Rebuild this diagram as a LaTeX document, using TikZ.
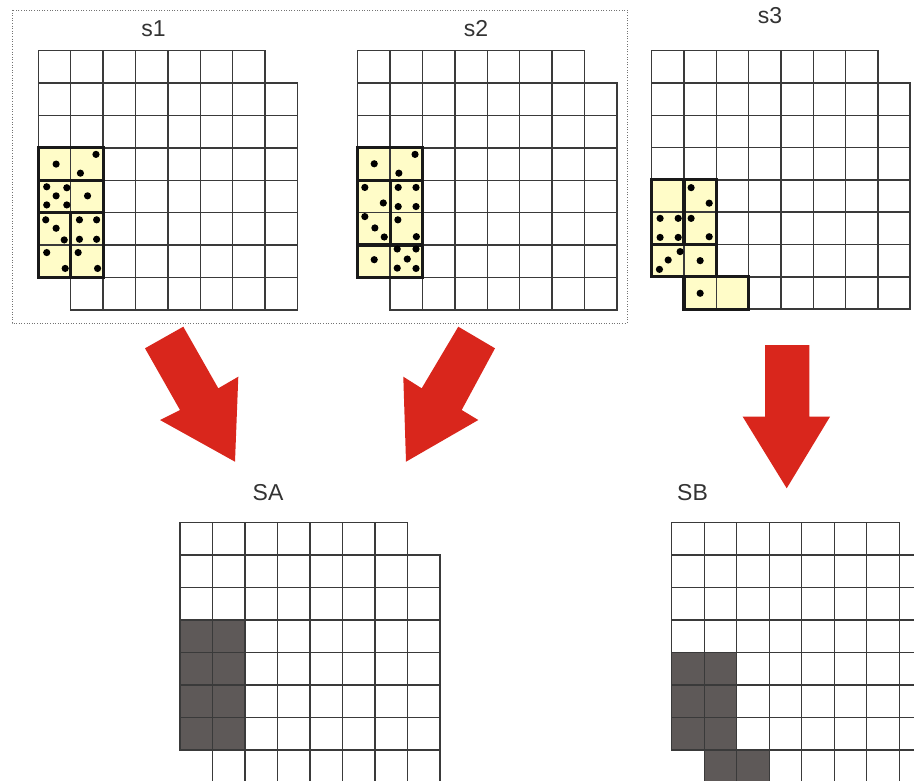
\documentclass[tikz,border=0pt]{standalone}
\usepackage{fontspec}
\setmainfont{Liberation Sans}
\definecolor{cellyellow}{HTML}{FFFCC8}
\definecolor{arrowred}{HTML}{D9261C}
\definecolor{darkcell}{HTML}{5E5958}
\definecolor{gridgray}{HTML}{3A3A3A}
\tikzset{
  gridline/.style={draw=gridgray, line width=1.4pt},
  boxline/.style={draw=black!90, line width=3.2pt},
  dotmark/.style={fill=black},
  bigarrow/.style={fill=arrowred},
  lbl/.style={font=\fontsize{23}{27}\selectfont, text=black!80, inner sep=0pt},
  frameline/.style={draw=black!55, line width=0.9pt, dash pattern=on 1pt off 1.6pt}
}
\newcommand{\cellgrid}{%
  \foreach \r in {0,...,7}{%
    \foreach \c in {0,...,7}{%
      \pgfmathtruncatemacro\omitcell{(\r==0)*(\c==7)+(\r==7)*(\c==0)}%
      \ifnum\omitcell=0 \draw[gridline] (\c,\r) rectangle ++(1,1);\fi
    }%
  }%
}
\newcommand{\putdots}[1]{\foreach \p in {#1}{\fill[dotmark] \p circle (3.6pt);}}
\begin{document}
\begin{tikzpicture}[x=1pt,y=-1pt]
\useasboundingbox (0,0) rectangle (914,781);
\clip (0,0) rectangle (914,781);
\fill[white] (0,0) rectangle (914,781);

% dotted frame around s1 and s2
\draw[frameline] (12,10) rectangle (627,323);

% labels
\node[lbl, anchor=base] (ls1) at (153.5,37) {s1};
\node[lbl, anchor=base] (ls2) at (476,37) {s2};
\node[lbl, anchor=base] (ls3) at (770,24) {s3};
\node[lbl, anchor=base] (lsa) at (268,500.5) {SA};
\node[lbl, anchor=base] (lsb) at (692.5,500.5) {SB};

% s1
\begin{scope}[shift={(38.3,50.7)}, x=32.4pt, y=-32.4pt]
  \fill[cellyellow] (0,3) rectangle (2,7);
  \cellgrid
  \draw[boxline] (0,3) rectangle (2,4);
  \draw[boxline] (0,4) rectangle (2,5);
  \draw[boxline] (0,5) rectangle (1,7);
  \draw[boxline] (1,5) rectangle (2,7);
  \putdots{(0.55,3.50),(1.78,3.20),(1.30,3.78),(0.26,4.20),(0.88,4.23),(0.55,4.48),
        (0.26,4.76),(0.88,4.76),(1.52,4.48),(0.23,5.22),(0.55,5.48),(0.80,5.84),
        (0.26,6.23),(0.83,6.72),(1.27,5.22),(1.80,5.22),(1.27,5.82),(1.80,5.82),
        (1.23,6.23),(1.83,6.72)}
\end{scope}

% s2
\begin{scope}[shift={(357.7,50.7)}, x=32.4pt, y=-32.4pt]
  \fill[cellyellow] (0,3) rectangle (2,7);
  \cellgrid
  \draw[boxline] (0,3) rectangle (2,4);
  \draw[boxline] (0,4) rectangle (1,6);
  \draw[boxline] (1,4) rectangle (2,6);
  \draw[boxline] (0,6) rectangle (2,7);
  \putdots{(0.51,3.49),(1.77,3.20),(1.27,3.78),(0.22,4.22),(0.79,4.70),(1.25,4.22),
        (1.80,4.22),(1.25,4.81),(1.80,4.81),(0.22,5.12),(0.53,5.47),(0.82,5.75),
        (1.24,5.22),(1.81,5.74),(0.51,6.45),(1.22,6.12),(1.80,6.12),(1.53,6.43),
        (1.22,6.71),(1.80,6.72)}
\end{scope}

% s3
\begin{scope}[shift={(651.7,50.7)}, x=32.3pt, y=-32.3pt]
  \fill[cellyellow] (0,4) rectangle (2,7);
  \fill[cellyellow] (1,7) rectangle (3,8);
  \cellgrid
  \draw[boxline] (0,4) rectangle (1,6);
  \draw[boxline] (1,4) rectangle (2,6);
  \draw[boxline] (0,6) rectangle (2,7);
  \draw[boxline] (1,7) rectangle (3,8);
  \putdots{(1.22,4.24),(1.78,4.72),(0.26,5.19),(0.82,5.19),(0.26,5.78),(0.82,5.78),
        (1.22,5.19),(1.78,5.76),(0.88,6.22),(0.51,6.48),(0.24,6.77),(1.50,6.50),
        (1.50,7.51)}
\end{scope}

% SA
\begin{scope}[shift={(180,522.3)}, x=32.5pt, y=-32.5pt]
  \fill[darkcell] (0,3) rectangle (2,7);
  \cellgrid
\end{scope}

% SB
\begin{scope}[shift={(671.7,522.3)}, x=32.5pt, y=-32.5pt]
  \fill[darkcell] (0,4) rectangle (2,7);
  \fill[darkcell] (1,7) rectangle (3,8);
  \cellgrid
\end{scope}

% block arrows
\fill[bigarrow] (183.3,326.7) -- (218.3,388.3) -- (238.3,376.7) -- (235,461.7)
  -- (160,420) -- (180,410) -- (145,348.3) -- cycle;
\fill[bigarrow] (458.3,326.7) -- (495,348.3) -- (461.7,410) -- (478.3,420)
  -- (406,461.7) -- (403.3,376.7) -- (421.7,388.3) -- cycle;
\fill[bigarrow] (765,345) -- (809.3,345) -- (809.3,416.7) -- (830,416.7)
  -- (786.7,488.3) -- (742.7,416.7) -- (765,416.7) -- cycle;
\end{tikzpicture}
\end{document}
